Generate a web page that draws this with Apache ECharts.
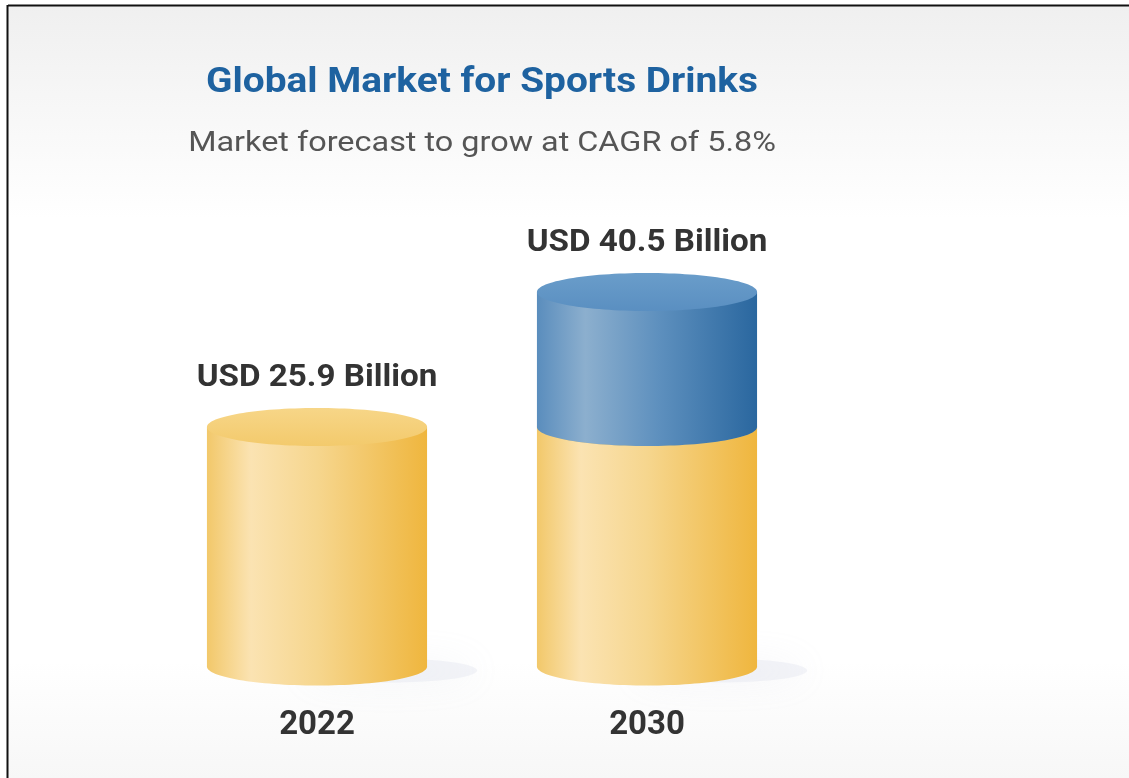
<!DOCTYPE html>
<html>
<head>
<meta charset="utf-8">
<title>Global Market for Sports Drinks</title>
<script src="https://cdn.jsdelivr.net/npm/echarts@6/dist/echarts.min.js"></script>
<style>
  html, body { margin: 0; padding: 0; background: #ffffff; }
  #chart { width: 1129px; height: 778px; }
</style>
</head>
<body>
<div id="chart"></div>
<script>
// Market size by year, USD billion
const years = ['2022', '2030'];
const marketSize = [25.9, 40.5];
const titleText = 'Global Market for Sports Drinks';
const subtitleText = 'Market forecast to grow at CAGR of 5.8%';

// Each cylinder: a gold base up to the 2022 size, a blue cap for growth beyond it
const baseValue = marketSize[0];
const segments = [];
marketSize.forEach(function (v, i) {
  const baseTop = Math.min(v, baseValue);
  segments.push([i, 0, baseTop, 0, baseTop === v ? 1 : 0]);
  if (v > baseValue) segments.push([i, baseValue, v, 1, 1]);
});

const palettes = [
  { // gold
    side: [[0, '#f2c86a'], [0.2, '#fbe3b2'], [0.5, '#f6d68e'], [1, '#efb63e']],
    top: [[0, '#f7d688'], [1, '#f3ca6c']]
  },
  { // blue
    side: [[0, '#5a8dbd'], [0.22, '#8cafce'], [0.55, '#5e90be'], [1, '#2a679f']],
    top: [[0, '#6a9dca'], [1, '#5a8fc1']]
  }
];

function hGradient(stops) {
  return new echarts.graphic.LinearGradient(0, 0, 1, 0,
    stops.map(function (s) { return { offset: s[0], color: s[1] }; }));
}
function vGradient(stops) {
  return new echarts.graphic.LinearGradient(0, 0, 0, 1,
    stops.map(function (s) { return { offset: s[0], color: s[1] }; }));
}

function renderCylinder(params, api) {
  const idx = api.value(0);
  const low = api.value(1);
  const high = api.value(2);
  const pal = palettes[api.value(3)];
  const hasLabel = api.value(4) === 1;
  const pLow = api.coord([idx, low]);
  const pHigh = api.coord([idx, high]);
  const bandW = api.size([1, 0])[0];
  const w = bandW * 0.667;
  const cx = pLow[0];
  const rx = w / 2;
  const ry = 19;
  const children = [];

  if (low === 0) {
    // soft floor shadow to the lower right
    children.push({
      type: 'ellipse',
      shape: { cx: cx + 72, cy: pLow[1] + 4, rx: rx * 0.8, ry: 12 },
      style: {
        fill: 'rgba(205,210,226,0.22)',
        shadowBlur: 34,
        shadowColor: 'rgba(180,186,208,0.55)'
      },
      silent: true
    });
  }
  children.push({
    type: 'ellipse',
    shape: { cx: cx, cy: pLow[1], rx: rx, ry: ry },
    style: { fill: hGradient(pal.side) }
  });
  children.push({
    type: 'rect',
    shape: { x: cx - rx, y: pHigh[1], width: w, height: pLow[1] - pHigh[1] },
    style: { fill: hGradient(pal.side) }
  });
  children.push({
    type: 'ellipse',
    shape: { cx: cx, cy: pHigh[1], rx: rx, ry: ry },
    style: { fill: vGradient(pal.top) }
  });
  if (hasLabel) {
    children.push({
      type: 'text',
      x: cx,
      y: pHigh[1] - 49,
      scaleX: 1.07,
      style: {
        text: 'USD ' + marketSize[idx].toFixed(1) + ' Billion',
        x: 0,
        y: 0,
        align: 'center',
        verticalAlign: 'middle',
        fontFamily: 'Roboto',
        fontWeight: 'bold',
        fontSize: 31,
        fill: '#333333'
      }
    });
  }
  return { type: 'group', children: children };
}

const chart = echarts.init(document.getElementById('chart'), null, { renderer: 'canvas' });

chart.setOption({
  animation: false,
  backgroundColor: new echarts.graphic.LinearGradient(0, 0, 0, 1, [
    { offset: 0, color: '#efefef' },
    { offset: 0.28, color: '#ffffff' },
    { offset: 0.85, color: '#ffffff' },
    { offset: 1, color: '#f7f7f7' }
  ]),
  graphic: [
    { type: 'rect', shape: { x: 0, y: 0, width: 8, height: 778 }, style: { fill: '#ffffff' } },
    { type: 'rect', shape: { x: 0, y: 0, width: 1129, height: 5 }, style: { fill: '#ffffff' } },
    { type: 'line', shape: { x1: 8, y1: 5.5, x2: 1129, y2: 5.5 }, style: { stroke: '#111111', lineWidth: 2 } },
    { type: 'line', shape: { x1: 7.5, y1: 5, x2: 7.5, y2: 778 }, style: { stroke: '#111111', lineWidth: 2 } },
    {
      type: 'text',
      x: 482,
      y: 83,
      scaleX: 1.11,
      style: {
        text: titleText, x: 0, y: 0, align: 'center', verticalAlign: 'middle',
        fontFamily: 'Roboto', fontWeight: 'bold', fontSize: 35, fill: '#1e62a0'
      }
    },
    {
      type: 'text',
      x: 482,
      y: 144,
      scaleX: 1.2,
      style: {
        text: subtitleText, x: 0, y: 0, align: 'center', verticalAlign: 'middle',
        fontFamily: 'Roboto', fontSize: 27, fill: '#555555'
      }
    }
  ],
  grid: { left: 152, width: 660, top: 204, height: 462.5 },
  xAxis: {
    type: 'category',
    data: years,
    axisLine: { show: false },
    axisTick: { show: false },
    axisLabel: {
      margin: 43,
      fontFamily: 'Roboto',
      fontWeight: 'bold',
      fontSize: 33,
      color: '#333333'
    }
  },
  yAxis: {
    type: 'value',
    min: 0,
    max: 50,
    show: false,
    splitLine: { show: false }
  },
  series: [{
    type: 'custom',
    renderItem: renderCylinder,
    encode: { x: 0, y: [1, 2] },
    data: segments,
    clip: false
  }]
});
</script>
</body>
</html>
